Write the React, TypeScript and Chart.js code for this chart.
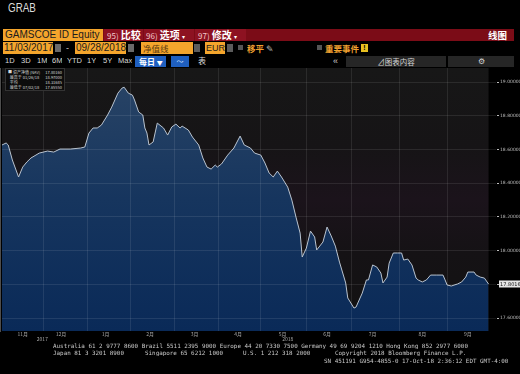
import React, { useEffect, useRef } from 'react';
import { Chart, registerables } from 'chart.js';

Chart.register(...registerables);

// ---- data (trading-day index since 11/03/2017, NAV in EUR) ----
const tradingDay = [0,2,3,5,8,10,12,14,18,22,25,28,33,38,40,42,44,46,48,51,53,56,58,59,61,63,64,66,68,69,70,71,73,75,78,80,82,84,86,87,90,92,95,97,99,101,103,104,106,109,112,115,117,120,122,125,127,129,131,133,135,138,140,142,144,145,147,149,151,152,155,157,159,161,163,166,167,170,171,174,176,177,179,181,183,184,186,187,189,191,193,194,196,198,200,201,203,205,207,210,213,214,215,217,220,222,224,225,228,229,231,233,235];
const navValues = [18.627,18.639,18.627,18.538,18.437,18.496,18.526,18.550,18.579,18.591,18.585,18.603,18.603,18.609,18.615,18.698,18.728,18.728,18.745,18.805,18.852,18.935,18.965,18.970,18.935,18.923,18.894,18.823,18.805,18.728,18.698,18.627,18.645,18.757,18.728,18.686,18.734,18.751,18.728,18.739,18.716,18.674,18.627,18.550,18.496,18.484,18.508,18.496,18.514,18.567,18.609,18.680,18.627,18.609,18.579,18.567,18.520,18.461,18.437,18.472,18.437,18.377,18.300,18.199,18.104,17.962,18.015,18.116,18.081,18.004,18.051,18.140,18.087,18.027,17.932,17.808,17.719,17.659,17.665,17.748,17.826,17.826,17.915,17.903,17.867,17.808,17.843,17.926,17.986,17.986,17.986,17.944,17.950,17.915,17.837,17.826,17.814,17.826,17.855,17.855,17.855,17.826,17.796,17.790,17.802,17.814,17.843,17.873,17.873,17.855,17.843,17.837,17.802];

const monthBoundaryDays = [20, 41.5, 62, 83.5, 104.5, 125, 147, 169, 192, 215];
const monthLabelDays = [10, 28.5, 50, 71.5, 93, 114, 135.5, 157, 179, 203, 225];
const monthLabels = ['11月', '12月', '1月', '2月', '3月', '4月', '5月', '6月', '7月', '8月', '9月'];
const yearLabelDays = [19.5, 138];
const yearLabels = ['2017', '2018'];
const yTickValues = [17.6, 17.8, 18.0, 18.2, 18.4, 18.6, 18.8, 19.0];
const lastValueText = '17.80160';

const X_MIN = 0;
const X_MAX = 238.6;
const Y_MIN = 17.523;
const Y_MAX = 19.084;

const xLabelTicks = [
  ...monthLabelDays.map((d, i) => ({ value: d, label: monthLabels[i] as string | string[] })),
  ...yearLabelDays.map((d, i) => ({ value: d, label: ['', yearLabels[i]] as string | string[] })),
].sort((a, b) => a.value - b.value);

const chartPlugin = {
  id: 'bbgDecor',
  beforeDraw(chart: any) {
    const { ctx, chartArea: a, scales } = chart;
    ctx.save();
    ctx.fillStyle = '#000';
    ctx.fillRect(0, 0, chart.width, chart.height);
    const xr = scales.x.getPixelForValue(tradingDay[tradingDay.length - 1]);
    const g = ctx.createLinearGradient(0, a.top, 0, a.bottom);
    g.addColorStop(0, '#171717');
    g.addColorStop(0.3, '#161416');
    g.addColorStop(0.5, '#1b131b');
    g.addColorStop(0.7, '#151215');
    g.addColorStop(1, '#121212');
    ctx.fillStyle = g;
    ctx.fillRect(a.left, a.top, xr - a.left, a.bottom - a.top);
    ctx.restore();
  },
  afterDraw(chart: any) {
    const { ctx, chartArea: a, scales } = chart;
    const y = scales.y.getPixelForValue(navValues[navValues.length - 1]);
    ctx.save();
    ctx.fillStyle = '#e6e6e6';
    ctx.fillRect(a.right + 3, y - 3.5, 21, 7);
    ctx.fillStyle = '#111';
    ctx.font = '5px "DejaVu Sans"';
    ctx.textBaseline = 'middle';
    ctx.textAlign = 'left';
    ctx.fillText(lastValueText, a.right + 4, y + 0.3);
    ctx.restore();
  },
};

function ChartCanvas() {
  const ref = useRef<HTMLCanvasElement | null>(null);
  useEffect(() => {
    if (!ref.current) return;
    const chart = new Chart(ref.current, {
      type: 'line',
      data: {
        datasets: [
          {
            data: tradingDay.map((d, i) => ({ x: d, y: navValues[i] })),
            borderColor: '#b9c3cf',
            borderWidth: 1,
            pointRadius: 0,
            tension: 0,
            fill: 'start',
            backgroundColor: (c: any) => {
              const a = c.chart.chartArea;
              if (!a) return '#123060';
              const g = c.chart.ctx.createLinearGradient(0, a.top, 0, a.bottom);
              g.addColorStop(0, '#2a4566');
              g.addColorStop(0.5, '#16355e');
              g.addColorStop(1, '#0a2a58');
              return g;
            },
          },
        ],
      },
      options: {
        responsive: false,
        animation: false,
        layout: { padding: { left: 2, right: 0, top: 0, bottom: 0 } },
        plugins: { legend: { display: false }, tooltip: { enabled: false } },
        scales: {
          x: {
            type: 'linear',
            min: X_MIN,
            max: X_MAX,
            position: 'bottom',
            grid: { color: 'rgba(255,255,255,0.09)', z: 1, drawTicks: false } as any,
            border: { display: false },
            ticks: { display: false },
            afterBuildTicks: (s: any) => {
              s.ticks = monthBoundaryDays.map((v) => ({ value: v }));
            },
            afterFit: (s: any) => {
              s.height = 0;
              s.paddingLeft = 0;
              s.paddingRight = 0;
            },
          },
          x2: {
            type: 'linear',
            min: X_MIN,
            max: X_MAX,
            position: 'bottom',
            grid: { display: false, drawTicks: false },
            border: { display: false },
            afterBuildTicks: (s: any) => {
              s.ticks = xLabelTicks.map((t) => ({ value: t.value }));
            },
            ticks: {
              autoSkip: false,
              maxRotation: 0,
              minRotation: 0,
              padding: 1,
              color: '#a8a8a8',
              font: { size: 5, family: '"Noto Sans CJK SC", "DejaVu Sans"', lineHeight: 1 },
              callback: (_v: any, i: number) => xLabelTicks[i].label,
            },
            afterFit: (s: any) => {
              s.height = 13;
              s.paddingLeft = 0;
              s.paddingRight = 0;
            },
          },
          y: {
            type: 'linear',
            position: 'right',
            min: Y_MIN,
            max: Y_MAX,
            afterBuildTicks: (s: any) => {
              s.ticks = yTickValues.map((v) => ({ value: v }));
            },
            grid: { color: 'rgba(255,255,255,0.09)', z: 1, tickLength: 3, tickColor: '#bdbdbd' } as any,
            border: { color: '#9a9a9a', width: 1 },
            ticks: {
              padding: 1,
              color: '#bdbdbd',
              font: { size: 4.5, family: '"DejaVu Sans"' },
              callback: (v: any) => Number(v).toFixed(5),
            },
            afterFit: (s: any) => {
              s.width = 24;
              s.paddingTop = 0;
              s.paddingBottom = 0;
            },
          },
        },
      } as any,
      plugins: [chartPlugin],
    });
    return () => chart.destroy();
  }, []);
  return <canvas ref={ref} width={520} height={276} style={{ position: 'absolute', left: 0, top: 68, display: 'block' }} />;
}

type BoxProps = {
  x: number; y: number; w?: number; h?: number; bg?: string; color?: string; size?: number;
  bold?: boolean; align?: 'left' | 'center' | 'right'; family?: string; pad?: number; children?: React.ReactNode; style?: React.CSSProperties;
};
function B({ x, y, w, h, bg, color, size, bold, align, family, pad, children, style }: BoxProps) {
  return (
    <div
      style={{
        position: 'absolute', left: x, top: y, width: w, height: h, background: bg, color: color || '#fff',
        fontSize: size || 8, fontWeight: bold ? 700 : 400, textAlign: align || 'left',
        fontFamily: family || '"Liberation Sans", "Noto Sans CJK SC", sans-serif',
        lineHeight: h ? `${h}px` : 'normal', whiteSpace: 'nowrap', paddingLeft: pad || 0, boxSizing: 'border-box',
        overflow: 'hidden', ...style,
      }}
    >
      {children}
    </div>
  );
}

const CJK = '"Noto Sans CJK SC", "Liberation Sans", sans-serif';
const ORANGE = '#f4a52c';
const ORANGE_TXT = '#f0a030';

export default function App() {
  useEffect(() => {
    document.body.style.margin = '0';
    document.body.style.background = '#000';
  }, []);
  const ranges = [['1D', 5], ['3D', 21], ['1M', 37], ['6M', 52], ['YTD', 67], ['1Y', 87], ['5Y', 103], ['Max', 118]] as [string, number][];
  const footMono = '"DejaVu Sans Mono", monospace';
  return (
    <div style={{ position: 'fixed', left: 0, top: 0, width: 520, height: 374, background: '#000', overflow: 'hidden' }}>
      <B x={8} y={1} h={15} size={12} color="#dcdcdc" style={{ transform: 'scaleX(0.82)', transformOrigin: 'left center' }}>GRAB</B>

      {/* red command bar */}
      <B x={3} y={29} w={511} h={12} bg="#7b0c17" />
      <B x={3} y={29} w={100} h={12} bg={ORANGE} color="#1c1c1c" size={10} pad={2}>GAMSCOE ID Equity</B>
      <B x={104} y={29} w={39} h={12} bg="#8d1221" size={10} family={CJK} pad={3}>
        <span style={{ fontSize: 8, color: '#f3c8cc' }}>95)</span> <b>比较</b>
      </B>
      <B x={144} y={29} w={50} h={12} bg="#8d1221" size={10} family={CJK} pad={2}>
        <span style={{ fontSize: 8, color: '#f3c8cc' }}>96)</span> <b>选项</b> <span style={{ fontSize: 6 }}>▾</span>
      </B>
      <B x={195} y={29} w={51} h={12} bg="#8d1221" size={10} family={CJK} pad={3}>
        <span style={{ fontSize: 8, color: '#f3c8cc' }}>97)</span> <b>修改</b> <span style={{ fontSize: 6 }}>▾</span>
      </B>
      <B x={488} y={29} w={24} h={12} size={9.5} family={CJK} bold>线图</B>

      {/* second row */}
      <B x={3} y={42} w={50} h={12} bg={ORANGE} color="#1c1c1c" size={10} pad={1}>11/03/2017</B>
      <B x={55} y={44} w={6} h={8} bg="#6a6a6a" />
      <B x={66} y={42} h={12} size={9} color="#ccc">-</B>
      <B x={75} y={42} w={51} h={12} bg={ORANGE} color="#1c1c1c" size={10} pad={1}>09/28/2018</B>
      <B x={128} y={44} w={6} h={8} bg="#6a6a6a" />
      <B x={141} y={42} w={52} h={12} bg={ORANGE} color="#5a3a10" size={8.5} family={CJK} pad={2}>净值线</B>
      <B x={194} y={44} w={6} h={8} bg="#5c5c5c" />
      <B x={205} y={42} w={20} h={12} bg={ORANGE} color="#1c1c1c" size={9} pad={1}>EUR</B>
      <B x={227} y={44} w={6} h={8} bg="#5c5c5c" />
      <B x={238} y={45} w={5} h={5} bg="#555" />
      <B x={247} y={42} h={12} size={8.5} color={ORANGE_TXT} family={CJK} bold>移平 <span style={{ color: '#bbb', fontWeight: 400 }}>✎</span></B>
      <B x={317} y={45} w={5} h={5} bg="#555" />
      <B x={325} y={42} h={12} size={8.5} color={ORANGE_TXT} family={CJK} bold>重要事件</B>
      <B x={361} y={44} w={7} h={8} bg="#e8c020" color="#000" size={7} bold align="center" style={{ lineHeight: '8px' }}>!</B>

      {/* third row */}
      {ranges.map(([t, x]) => (
        <B key={t} x={x} y={55} h={12} size={7.5} color="#d8d8d8">{t}</B>
      ))}
      <B x={135} y={56} w={31} h={11} bg="#1f5fbf" size={8} family={CJK} pad={4} bold>每日 <span style={{ fontSize: 6 }}>▼</span></B>
      <B x={171} y={56} w={18} h={11} bg="#1f5fbf" size={7} align="center" color="#cfe0ff">〜</B>
      <B x={198} y={55} h={12} size={8} family={CJK} color="#ddd">表</B>
      <B x={333} y={55} h={12} size={9} color="#ccc">«</B>
      <B x={346} y={56} w={100} h={11} bg="#262626" size={7.5} family={CJK} align="center" color="#d5d5d5">⊿图表内容</B>
      <B x={448} y={56} w={66} h={11} bg="#262626" size={8} align="center" color="#d5d5d5">⚙</B>

      <ChartCanvas />

      {/* legend box */}
      <div style={{ position: 'absolute', left: 5, top: 68, width: 60, height: 23, background: '#0c0c0c', border: '1px solid #333', boxSizing: 'border-box', padding: '1px 2px', fontFamily: CJK, fontSize: 4, lineHeight: '5px', color: '#d8d8d8' }}>
        {[
          ['■ 资产净值 (NAV)', '17.80160'],
          ['  最高于 01/26/18', '18.97000'],
          ['  平均', '18.31685'],
          ['  最低于 07/02/18', '17.65550'],
        ].map(([a, b]) => (
          <div key={a} style={{ display: 'flex', justifyContent: 'space-between', whiteSpace: 'pre' }}>
            <span>{a}</span>
            <span>{b}</span>
          </div>
        ))}
      </div>

      {/* footer */}
      <B x={53} y={343} h={6} size={5.9} family={footMono} color="#c8c8c8">Australia 61 2 9777 8600 Brazil 5511 2395 9000 Europe 44 20 7330 7500 Germany 49 69 9204 1210 Hong Kong 852 2977 6000</B>
      <B x={53} y={350} h={6} size={5.9} family={footMono} color="#c8c8c8">Japan 81 3 3201 8900</B>
      <B x={145} y={350} h={6} size={5.9} family={footMono} color="#c8c8c8">Singapore 65 6212 1000</B>
      <B x={243} y={350} h={6} size={5.9} family={footMono} color="#c8c8c8">U.S. 1 212 318 2000</B>
      <B x={335} y={350} h={6} size={5.9} family={footMono} color="#c8c8c8">Copyright 2018 Bloomberg Finance L.P.</B>
      <B x={324} y={358} h={6} size={5.9} family={footMono} color="#c8c8c8">SN 451191 G954-4855-0 17-Oct-18  2:36:12 EDT  GMT-4:00</B>
    </div>
  );
}
